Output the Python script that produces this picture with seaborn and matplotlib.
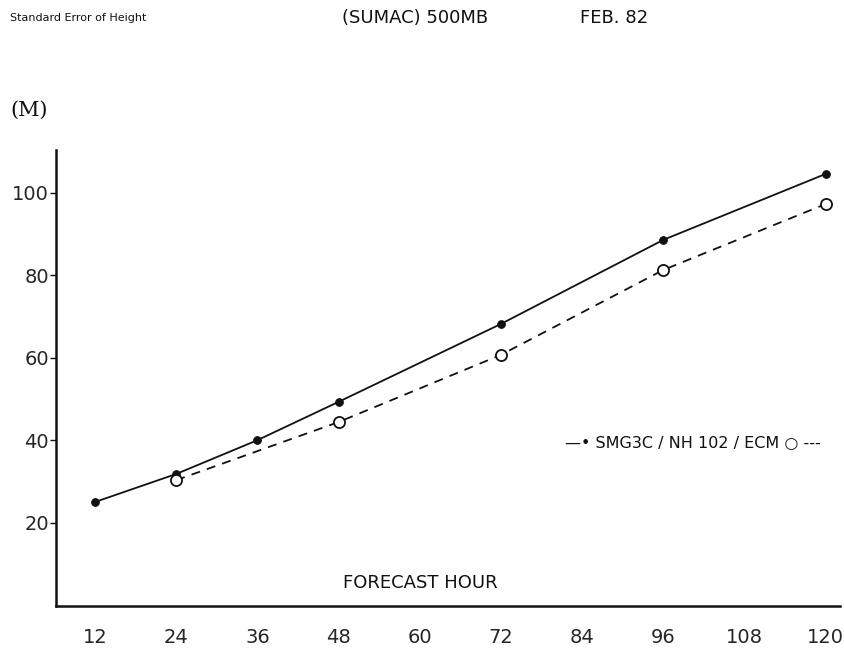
import numpy as np
import pandas as pd
import matplotlib
matplotlib.use('Agg')
import matplotlib.pyplot as plt
import seaborn as sns

sns.set_theme(style='white')
plt.rcParams['font.family'] = ['DejaVu Sans']

# values
hours_smg = [12, 24, 36, 48, 72, 96, 120]
smg3c = [25.0, 31.8, 40.0, 49.3, 68.2, 88.6, 104.6]

hours_ecm = [24, 48, 72, 96, 120]
ecm = [30.3, 44.4, 60.7, 81.3, 97.3]

xticks = [12, 24, 36, 48, 60, 72, 84, 96, 108, 120]
yticks = [20, 40, 60, 80, 100]

df_smg = pd.DataFrame({'hour': hours_smg, 'err': smg3c})
df_ecm = pd.DataFrame({'hour': hours_ecm, 'err': ecm})

fig = plt.figure(figsize=(8.45, 6.55), dpi=100)
ax = fig.add_axes([0.066, 0.075, 0.928, 0.696])

sns.lineplot(data=df_smg, x='hour', y='err', ax=ax, color='#111111',
             linewidth=1.3, marker='o', markersize=5.5,
             markerfacecolor='#111111', markeredgecolor='#111111')
sns.lineplot(data=df_ecm, x='hour', y='err', ax=ax, color='#111111',
             linewidth=1.3, linestyle=(0, (5, 4)), marker='o', markersize=8,
             markerfacecolor='white', markeredgecolor='#111111',
             markeredgewidth=1.3)

ax.set_xlim(6.2, 122.1)
ax.set_ylim(-0.2, 110.4)
ax.set_xticks(xticks)
ax.set_yticks(yticks)
ax.set_xticklabels([str(t) for t in xticks], fontsize=14)
ax.set_yticklabels([str(t) for t in yticks], fontsize=14)
ax.tick_params(axis='x', length=0, pad=16)
ax.tick_params(axis='y', length=4, width=1, direction='out', pad=1,
               left=True, color='#111111')
ax.set_xlabel('')
ax.set_ylabel('')

for side in ['top', 'right']:
    ax.spines[side].set_visible(False)
for side in ['left', 'bottom']:
    ax.spines[side].set_color('#111111')
    ax.spines[side].set_linewidth(1.8)

ax.text(0.366, 0.05, 'FORECAST HOUR', transform=ax.transAxes,
        fontsize=13, color='#111111', va='center')

# inline legend
ax.text(0.649, 0.357, '—• SMG3C / NH 102 / ECM ○ ---', transform=ax.transAxes,
        fontsize=11.5, color='#111111', va='center')

# header texts
fig.text(0.012, 0.972, 'Standard Error of Height', fontsize=8,
         family=['Liberation Sans Narrow', 'DejaVu Sans'],
         color='#111111', va='center')
fig.text(0.405, 0.972, '(SUMAC) 500MB', fontsize=13,
         color='#111111', va='center')
fig.text(0.686, 0.972, 'FEB. 82', fontsize=13,
         color='#111111', va='center')
fig.text(0.012, 0.832, '(M)', fontsize=15, family=['DejaVu Serif'],
         color='#111111', va='center')

fig.savefig('out.png', dpi=100)
